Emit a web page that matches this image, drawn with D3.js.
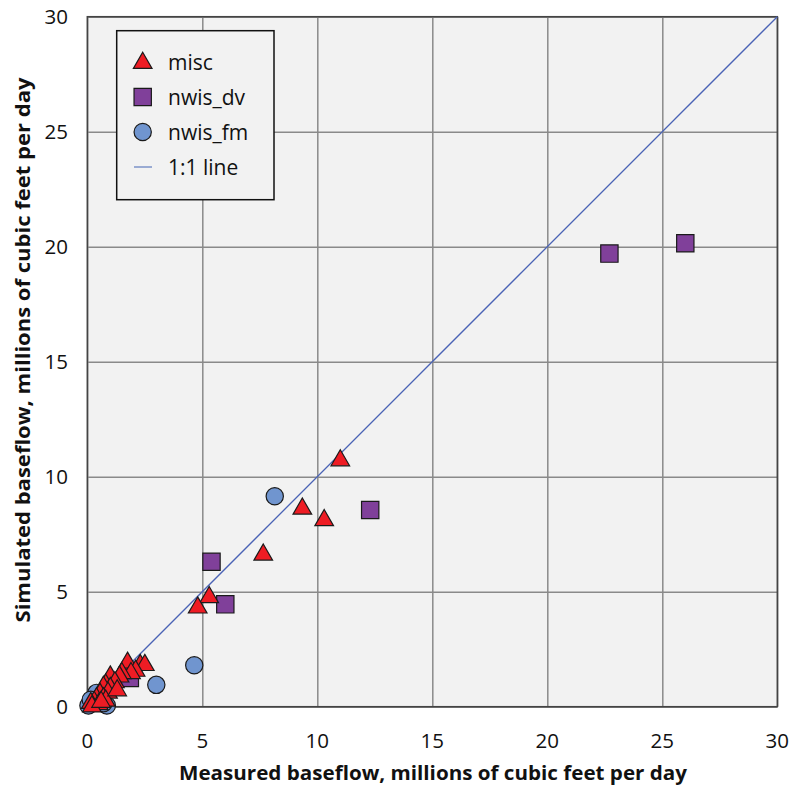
<!DOCTYPE html>
<html>
<head>
<meta charset="utf-8">
<script src="https://cdn.jsdelivr.net/npm/d3@7"></script>
<style>
body { margin: 0; background: #fff; }
text { font-family: "Open Sans", "Noto Sans", sans-serif; }
</style>
</head>
<body>
<svg></svg>
<script>
var width = 790, height = 787;

// measured (x), simulated (y), millions of cubic feet per day
var misc = [
    [11.0, 10.75], [9.35, 8.65], [10.3, 8.15], [7.65, 6.65], [5.3, 4.8], [4.8, 4.35],
    [1.75, 1.95], [2.3, 1.85], [2.5, 1.85], [2.1, 1.6], [1.9, 1.5], [1.5, 1.5],
    [1.4, 1.35], [1.0, 1.35], [1.2, 1.1], [0.8, 1.0], [1.0, 0.85], [0.7, 0.9],
    [0.9, 0.65], [0.55, 0.6], [0.7, 0.4], [0.4, 0.4], [0.3, 0.25], [0.15, 0.2],
    [0.5, 0.15], [0.2, 0.05], [0.8, 0.3], [1.3, 0.75], [0.6, 0.25]
];
var nwisDv = [
    [26.0, 20.15], [22.7, 19.7], [12.3, 8.55], [5.4, 6.3], [6.0, 4.45], [1.85, 1.25]
];
var nwisFm = [
    [8.15, 9.15], [4.65, 1.8], [3.0, 0.95], [0.05, 0.05], [0.85, 0.05],
    [0.4, 0.6], [0.7, 0.15], [0.15, 0.3]
];
var ticks = [0, 5, 10, 15, 20, 25, 30];
var legendItems = ["misc", "nwis_dv", "nwis_fm", "1:1 line"];

var svg = d3.select("svg")
    .attr("width", width)
    .attr("height", height);

var x = d3.scaleLinear().domain([0, 30]).range([87.3, 777.3]);
var y = d3.scaleLinear().domain([0, 30]).range([706.7, 16.7]);

// plot background
svg.append("rect")
    .attr("x", x(0)).attr("y", y(30))
    .attr("width", x(30) - x(0)).attr("height", y(0) - y(30))
    .attr("fill", "#f2f2f2");

// grid
svg.append("g")
    .attr("transform", "translate(0," + y(0) + ")")
    .call(d3.axisBottom(x).tickValues(ticks).tickSize(-(y(0) - y(30))).tickFormat(""))
    .call(g => g.select(".domain").remove())
    .call(g => g.selectAll("line").attr("stroke", "#8a8a8a").attr("stroke-width", 1.5));

svg.append("g")
    .attr("transform", "translate(" + x(0) + ",0)")
    .call(d3.axisLeft(y).tickValues(ticks).tickSize(-(x(30) - x(0))).tickFormat(""))
    .call(g => g.select(".domain").remove())
    .call(g => g.selectAll("line").attr("stroke", "#8a8a8a").attr("stroke-width", 1.5));

// tick labels
svg.append("g").selectAll("text")
    .data(ticks)
    .join("text")
    .attr("x", d => x(d))
    .attr("y", 748)
    .attr("text-anchor", "middle")
    .attr("font-size", 20.5)
    .attr("fill", "#111")
    .text(d => d);

svg.append("g").selectAll("text")
    .data(ticks)
    .join("text")
    .attr("x", 68)
    .attr("y", d => y(d) + 7.5)
    .attr("text-anchor", "end")
    .attr("font-size", 20.5)
    .attr("fill", "#111")
    .text(d => d);

// frame
svg.append("rect")
    .attr("x", x(0)).attr("y", y(30))
    .attr("width", x(30) - x(0)).attr("height", y(0) - y(30))
    .attr("fill", "none")
    .attr("stroke", "#444")
    .attr("stroke-width", 1.5);

// axis titles
svg.append("text")
    .attr("x", 433)
    .attr("y", 780)
    .attr("text-anchor", "middle")
    .attr("font-size", 20)
    .attr("font-weight", 700)
    .attr("textLength", 508)
    .attr("lengthAdjust", "spacingAndGlyphs")
    .attr("fill", "#111")
    .text("Measured baseflow, millions of cubic feet per day");

svg.append("text")
    .attr("transform", "translate(30,350) rotate(-90)")
    .attr("text-anchor", "middle")
    .attr("font-size", 20)
    .attr("font-weight", 700)
    .attr("textLength", 545)
    .attr("lengthAdjust", "spacingAndGlyphs")
    .attr("fill", "#111")
    .text("Simulated baseflow, millions of cubic feet per day");

// 1:1 line
svg.append("line")
    .attr("x1", x(0)).attr("y1", y(0))
    .attr("x2", x(30)).attr("y2", y(30))
    .attr("stroke", "#4a63b5")
    .attr("stroke-width", 1.3);

var tri = d3.symbol().type(d3.symbolTriangle).size(150);
var sq = d3.symbol().type(d3.symbolSquare).size(300);
var circ = d3.symbol().type(d3.symbolCircle).size(235);

var marks = svg.append("g");

marks.selectAll(".fm")
    .data(nwisFm)
    .join("path")
    .attr("class", "fm")
    .attr("d", circ)
    .attr("transform", d => "translate(" + x(d[0]) + "," + y(d[1]) + ")")
    .attr("fill", "#7095cf")
    .attr("stroke", "#1a1a1a")
    .attr("stroke-width", 1.2);

marks.selectAll(".dv")
    .data(nwisDv)
    .join("path")
    .attr("class", "dv")
    .attr("d", sq)
    .attr("transform", d => "translate(" + x(d[0]) + "," + y(d[1]) + ")")
    .attr("fill", "#80409a")
    .attr("stroke", "#1a1a1a")
    .attr("stroke-width", 1.2);

marks.selectAll(".misc")
    .data(misc)
    .join("path")
    .attr("class", "misc")
    .attr("d", tri)
    .attr("transform", d => "translate(" + x(d[0]) + "," + (y(d[1]) + 1) + ")")
    .attr("fill", "#ee1c24")
    .attr("stroke", "#1a1a1a")
    .attr("stroke-width", 1.2);

// legend
var legend = svg.append("g");
legend.append("rect")
    .attr("x", 116.7).attr("y", 30.7)
    .attr("width", 157.3).attr("height", 169)
    .attr("fill", "#f2f2f2")
    .attr("stroke", "#111")
    .attr("stroke-width", 1.5);

var ly = d3.scalePoint().domain(legendItems).range([62, 167]);

legend.append("path").attr("d", tri)
    .attr("transform", "translate(142.7," + (ly("misc") + 1) + ")")
    .attr("fill", "#ee1c24").attr("stroke", "#1a1a1a").attr("stroke-width", 1.2);
legend.append("path").attr("d", sq)
    .attr("transform", "translate(142.7," + ly("nwis_dv") + ")")
    .attr("fill", "#80409a").attr("stroke", "#1a1a1a").attr("stroke-width", 1.2);
legend.append("path").attr("d", circ)
    .attr("transform", "translate(142.7," + ly("nwis_fm") + ")")
    .attr("fill", "#7095cf").attr("stroke", "#1a1a1a").attr("stroke-width", 1.2);
legend.append("line")
    .attr("x1", 134).attr("x2", 152)
    .attr("y1", ly("1:1 line")).attr("y2", ly("1:1 line"))
    .attr("stroke", "#7d93c9").attr("stroke-width", 1.5);

legend.selectAll("text")
    .data(legendItems)
    .join("text")
    .attr("x", 168)
    .attr("y", d => ly(d) + 7.5)
    .attr("font-size", 21)
    .attr("fill", "#111")
    .text(d => d);
</script>
</body>
</html>
